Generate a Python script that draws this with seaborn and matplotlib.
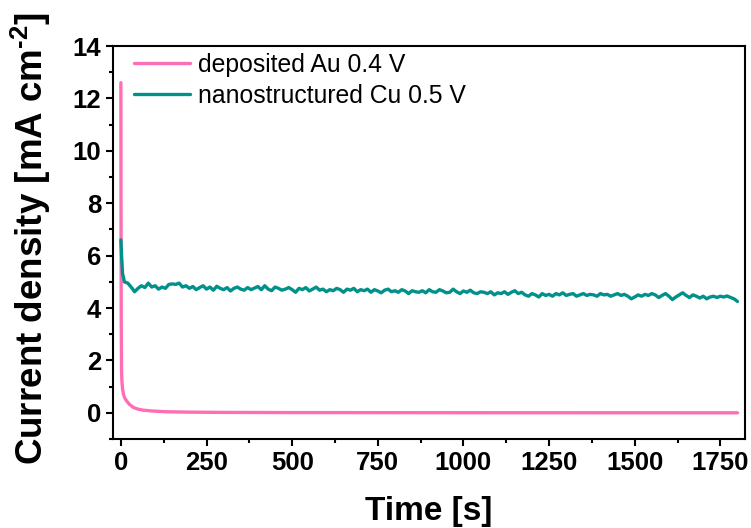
import numpy as np
import pandas as pd
import matplotlib
matplotlib.use("Agg")
import matplotlib.pyplot as plt
import seaborn as sns
from matplotlib.ticker import AutoMinorLocator

# --- data ---
au_time = [0, 0.5, 1, 2, 3, 5, 8, 12, 17, 25, 37, 50, 65, 90, 133, 200, 300, 500, 1000, 1800]
au_current = [12.6, 7.0, 3.5, 1.6, 1.2, 0.9, 0.68, 0.55, 0.45, 0.32, 0.2, 0.14, 0.1, 0.07, 0.04,
              0.025, 0.015, 0.008, 0.003, 0.0]

cu_time = [0, 2, 5, 8] + list(range(10, 1801, 10))
cu_current = [6.6, 6.0, 5.3, 5.15,
    5.0, 4.95, 4.8, 4.62, 4.75, 4.85, 4.78, 4.95, 4.8, 4.85,
    4.72, 4.8, 4.75, 4.9, 4.92, 4.9, 4.95, 4.8, 4.85, 4.75,
    4.82, 4.7, 4.78, 4.85, 4.72, 4.8, 4.68, 4.83, 4.75, 4.7,
    4.78, 4.65, 4.75, 4.8, 4.72, 4.68, 4.78, 4.7, 4.76, 4.82,
    4.7, 4.85, 4.72, 4.66, 4.8, 4.75, 4.68, 4.72, 4.78, 4.7,
    4.6, 4.75, 4.7, 4.78, 4.65, 4.72, 4.8, 4.68, 4.72, 4.62,
    4.7, 4.66, 4.75, 4.7, 4.6, 4.72, 4.68, 4.75, 4.62, 4.7,
    4.66, 4.72, 4.6, 4.7, 4.65, 4.58, 4.68, 4.72, 4.62, 4.66,
    4.6, 4.7, 4.65, 4.55, 4.66, 4.62, 4.6, 4.66, 4.58, 4.7,
    4.62, 4.6, 4.7, 4.65, 4.58, 4.6, 4.72, 4.62, 4.55, 4.65,
    4.6, 4.68, 4.58, 4.55, 4.62, 4.6, 4.55, 4.62, 4.5, 4.58,
    4.55, 4.62, 4.52, 4.6, 4.66, 4.55, 4.6, 4.5, 4.45, 4.55,
    4.5, 4.42, 4.55, 4.48, 4.52, 4.45, 4.55, 4.5, 4.58, 4.48,
    4.52, 4.55, 4.45, 4.5, 4.55, 4.48, 4.52, 4.5, 4.45, 4.55,
    4.5, 4.52, 4.45, 4.5, 4.55, 4.48, 4.52, 4.45, 4.35, 4.42,
    4.5, 4.45, 4.52, 4.48, 4.55, 4.5, 4.4, 4.48, 4.55, 4.45,
    4.32, 4.42, 4.5, 4.58, 4.48, 4.4, 4.5, 4.45, 4.38, 4.45,
    4.35, 4.42, 4.45, 4.4, 4.45, 4.42, 4.46, 4.4, 4.35, 4.25]

labels = ["deposited Au 0.4 V", "nanostructured Cu 0.5 V"]
colors = ["#FF6EB4", "#00918A"]
x_ticks = [0, 250, 500, 750, 1000, 1250, 1500, 1750]
y_ticks = [0, 2, 4, 6, 8, 10, 12, 14]

df = pd.concat([
    pd.DataFrame({"Time": au_time, "Current": au_current, "Sample": labels[0]}),
    pd.DataFrame({"Time": cu_time, "Current": cu_current, "Sample": labels[1]}),
], ignore_index=True)

sns.set_style("ticks")
plt.rcParams["font.family"] = ["Liberation Sans", "DejaVu Sans"]
plt.rcParams["mathtext.fontset"] = "custom"
plt.rcParams["mathtext.rm"] = "Liberation Sans:bold"
plt.rcParams["mathtext.bf"] = "Liberation Sans:bold"
for key in ["text.color", "axes.labelcolor", "xtick.color", "ytick.color", "axes.edgecolor"]:
    plt.rcParams[key] = "black"

W, H = 751, 528
left, right, top, bottom = 113, 745, 46, 439
fig = plt.figure(figsize=(W / 100, H / 100), dpi=100)
ax = fig.add_axes([left / W, 1 - bottom / H, (right - left) / W, (bottom - top) / H])

sns.lineplot(data=df, x="Time", y="Current", hue="Sample", palette=colors,
             hue_order=labels, linewidth=2.4, ax=ax, estimator=None, sort=False)

ax.set_xlim(-23, 1822)
ax.set_ylim(-1.0, 14)
ax.set_xticks(x_ticks)
ax.set_yticks(y_ticks)
ax.xaxis.set_minor_locator(AutoMinorLocator(2))
ax.yaxis.set_minor_locator(AutoMinorLocator(2))

for s in ax.spines.values():
    s.set_visible(True)
    s.set_linewidth(1.5)
    s.set_color("black")

ax.tick_params(which="major", direction="out", length=5, width=1.5, labelsize=18.5,
               top=False, right=False, pad=3.5)
ax.tick_params(which="minor", direction="out", length=3, width=1.5,
               top=False, right=False)
for lbl in ax.get_xticklabels() + ax.get_yticklabels():
    lbl.set_fontweight("bold")

ax.set_xlabel("Time [s]", fontsize=24, fontweight="bold")
ax.xaxis.set_label_coords(0.5, -(520 - bottom) / (bottom - top))
ax.xaxis.label.set_verticalalignment("baseline")

ax.set_ylabel("Current density [mA cm$^{\\text{-2}}$]", fontsize=26.5, fontweight="bold")
ax.yaxis.set_label_coords((53 - left) / (right - left), 0.51)

leg = ax.legend(loc="upper left", bbox_to_anchor=(0.011, 1.018), frameon=False, fontsize=17.8,
                handlelength=2.3, handletextpad=0.3, borderaxespad=0.25, labelspacing=0.3,
                borderpad=0.3)
for line in leg.get_lines():
    line.set_linewidth(2.4)

fig.savefig("out.png", dpi=100)
